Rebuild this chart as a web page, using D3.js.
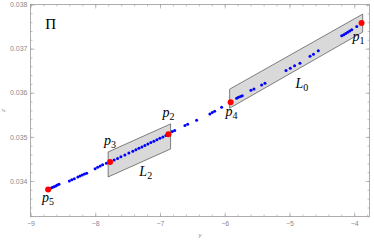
<!DOCTYPE html>
<html>
<head>
<meta charset="utf-8">
<script src="https://cdn.jsdelivr.net/npm/d3@7/dist/d3.min.js"></script>
<style>
body { margin: 0; background: #fff; }
</style>
</head>
<body>
<script>
// blue points (y, z)
var dotY = [-8.691, -8.665, -8.638, -8.612, -8.586, -8.560,
            -8.400, -8.362, -8.323,
            -8.269, -8.235, -8.201, -8.167, -8.133,
            -8.002, -7.963, -7.924, -7.886, -7.828,
            -7.708, -7.655, -7.604, -7.542, -7.481, -7.419, -7.372, -7.326, -7.280,
            -7.233, -7.187, -7.141, -7.094, -7.048, -7.002, -6.955, -6.909,
            -6.811, -6.773, -6.615, -6.573, -6.434, -6.229, -6.193, -6.156, -6.048,
            -5.816, -5.788, -5.757, -5.729, -5.595, -5.549, -5.430, -5.379,
            -5.054, -4.988, -4.921, -4.838, -4.683, -4.629, -4.555,
            -4.193, -4.162, -4.131, -4.100, -4.070, -4.039, -3.961];
var dotZ = [0.033834, 0.033853, 0.033871, 0.033889, 0.033907, 0.033925,
            0.034000, 0.034027, 0.034050,
            0.034091, 0.034113, 0.034136, 0.034157, 0.034177,
            0.034279, 0.034309, 0.034340, 0.034368, 0.034404,
            0.034475, 0.034512, 0.034547, 0.034590, 0.034633, 0.034676, 0.034709, 0.034741, 0.034773,
            0.034806, 0.034838, 0.034870, 0.034902, 0.034934, 0.034967, 0.034999, 0.035031,
            0.035119, 0.035146, 0.035255, 0.035287, 0.035377, 0.035520, 0.035550, 0.035581, 0.035672,
            0.035876, 0.035895, 0.035913, 0.035929, 0.036058, 0.036087, 0.036178, 0.036217,
            0.036503, 0.036557, 0.036609, 0.036671, 0.036825, 0.036870, 0.036950,
            0.037290, 0.037317, 0.037345, 0.037372, 0.037399, 0.037426, 0.037501];

// red points
var redNames = ["1", "2", "3", "4", "5"];
var redY = [-3.887, -6.870, -7.771, -5.909, -8.728];
var redZ = [0.037580, 0.035060, 0.034431, 0.035786, 0.033807];

// parallelograms L0, L2
var boxNames = ["0", "2"];
var boxY0 = [-5.924, -7.801];
var boxY1 = [-3.869, -6.836];
var boxTop0 = [0.036081, 0.034658];
var boxBot0 = [0.035650, 0.034091];
var boxTop1 = [0.037782, 0.035293];
var boxBot1 = [0.037374, 0.034726];
// label anchor of each box (y, z)
var boxLabY = [-4.81, -7.22];
var boxLabZ = [0.036110, 0.034113];

var xTicks = [-9, -8, -7, -6, -5, -4];
var yTicks = [0.034, 0.035, 0.036, 0.037, 0.038];

var W = 374, H = 240;
var margin = {top: 4.5, right: 4.5, bottom: 23.5, left: 30.5};
var width = W - margin.left - margin.right;
var height = H - margin.top - margin.bottom;

var svg = d3.select("body").append("svg")
  .attr("width", W).attr("height", H)
  .append("g")
  .attr("transform", "translate(" + margin.left + "," + margin.top + ")");

var x = d3.scaleLinear().domain([-9, -3.764]).range([0, width]);
var y = d3.scaleLinear().domain([0.033195, 0.038]).range([height, 0]);

var minorX = d3.range(-9, -3.7, 0.2);
var minorY = d3.range(0.0332, 0.03801, 0.0002);

var tickCol = "#9a9a9a";
var labFont = "Liberation Sans, Arial, sans-serif";

function styleAxis(g) {
  g.select(".domain").remove();
  g.selectAll("line").attr("stroke", tickCol).attr("stroke-width", 0.6);
  g.selectAll("text").attr("fill", "#8a8a8a").style("font-size", "7px").style("font-family", labFont);
}

// minor ticks, all four sides
svg.append("g").attr("transform", "translate(0," + height + ")")
  .call(d3.axisBottom(x).tickValues(minorX).tickSize(-2).tickFormat("")).call(styleAxis);
svg.append("g")
  .call(d3.axisTop(x).tickValues(minorX).tickSize(-2).tickFormat("")).call(styleAxis);
svg.append("g")
  .call(d3.axisLeft(y).tickValues(minorY).tickSize(-2).tickFormat("")).call(styleAxis);
svg.append("g").attr("transform", "translate(" + width + ",0)")
  .call(d3.axisRight(y).tickValues(minorY).tickSize(-2).tickFormat("")).call(styleAxis);

// major ticks
svg.append("g").attr("transform", "translate(0," + height + ")")
  .call(d3.axisBottom(x).tickValues(xTicks).tickSize(-4).tickPadding(5).tickFormat(d3.format("d")))
  .call(styleAxis);
svg.append("g")
  .call(d3.axisTop(x).tickValues(xTicks).tickSize(-4).tickFormat("")).call(styleAxis);
svg.append("g")
  .call(d3.axisLeft(y).tickValues(yTicks).tickSize(-4).tickPadding(3).tickFormat(d3.format(".3f")))
  .call(styleAxis);
svg.append("g").attr("transform", "translate(" + width + ",0)")
  .call(d3.axisRight(y).tickValues(yTicks).tickSize(-4).tickFormat("")).call(styleAxis);

// frame
svg.append("rect")
  .attr("width", width).attr("height", height)
  .attr("fill", "none").attr("stroke", tickCol).attr("stroke-width", 0.8);

// axis titles
svg.append("text")
  .attr("x", width / 2).attr("y", height + 20)
  .attr("text-anchor", "middle")
  .style("font-family", labFont).style("font-size", "6px").style("font-style", "italic")
  .attr("fill", "#8a8a8a").text("y");
svg.append("text")
  .attr("transform", "translate(" + (-26) + "," + (height / 2) + ") rotate(-90)")
  .attr("text-anchor", "middle")
  .style("font-family", labFont).style("font-size", "6px").style("font-style", "italic")
  .attr("fill", "#8a8a8a").text("z");

// parallelograms
var boxes = boxNames.map(function(n, i) {
  return {name: n, pts: [[boxY0[i], boxTop0[i]], [boxY1[i], boxTop1[i]], [boxY1[i], boxBot1[i]], [boxY0[i], boxBot0[i]]],
          ly: boxLabY[i], lz: boxLabZ[i]};
});
var poly = d3.line().x(function(d) { return x(d[0]); }).y(function(d) { return y(d[1]); });
svg.selectAll(".box").data(boxes).enter().append("path")
  .attr("class", "box")
  .attr("d", function(d) { return poly(d.pts) + "Z"; })
  .attr("fill", "#d9d9d9").attr("stroke", "#4d4d4d").attr("stroke-width", 0.7);

var mathFont = "Liberation Serif, Times New Roman, serif";

svg.selectAll(".boxlab").data(boxes).enter().append("text")
  .attr("class", "boxlab")
  .attr("x", function(d) { return x(d.ly); })
  .attr("y", function(d) { return y(d.lz); })
  .attr("text-anchor", "middle")
  .style("font-family", mathFont).style("font-style", "italic").style("font-size", "14px")
  .each(function(d) {
    var t = d3.select(this);
    t.append("tspan").text("L");
    t.append("tspan").attr("dy", 3).style("font-size", "10px").style("font-style", "normal").text(d.name);
  });

// blue points
var dots = dotY.map(function(v, i) { return {y: v, z: dotZ[i]}; });
svg.selectAll(".dot").data(dots).enter().append("circle")
  .attr("class", "dot")
  .attr("cx", function(d) { return x(d.y); })
  .attr("cy", function(d) { return y(d.z); })
  .attr("r", 1.5)
  .attr("fill", "#0000ff");

// red points
var reds = redNames.map(function(n, i) { return {name: n, y: redY[i], z: redZ[i]}; });
svg.selectAll(".red").data(reds).enter().append("circle")
  .attr("class", "red")
  .attr("cx", function(d) { return x(d.y); })
  .attr("cy", function(d) { return y(d.z); })
  .attr("r", 3)
  .attr("fill", "#ff0000");

// label offsets in px (dx, dy) for p1..p5
var labDx = [-3, 0, 0, 1, 0];
var labDy = [18, -17, -17, 14, 13];
svg.selectAll(".redlab").data(reds).enter().append("text")
  .attr("class", "redlab")
  .attr("x", function(d, i) { return x(d.y) + labDx[i]; })
  .attr("y", function(d, i) { return y(d.z) + labDy[i]; })
  .attr("text-anchor", "middle")
  .style("font-family", mathFont).style("font-style", "italic").style("font-size", "14px")
  .each(function(d) {
    var t = d3.select(this);
    t.append("tspan").text("p");
    t.append("tspan").attr("dy", 3).style("font-size", "10px").style("font-style", "normal").text(d.name);
  });

// Pi label
svg.append("text")
  .attr("x", x(-8.69)).attr("y", y(0.03745))
  .attr("text-anchor", "middle")
  .style("font-family", mathFont).style("font-size", "15px")
  .text("\u03A0");
</script>
</body>
</html>
